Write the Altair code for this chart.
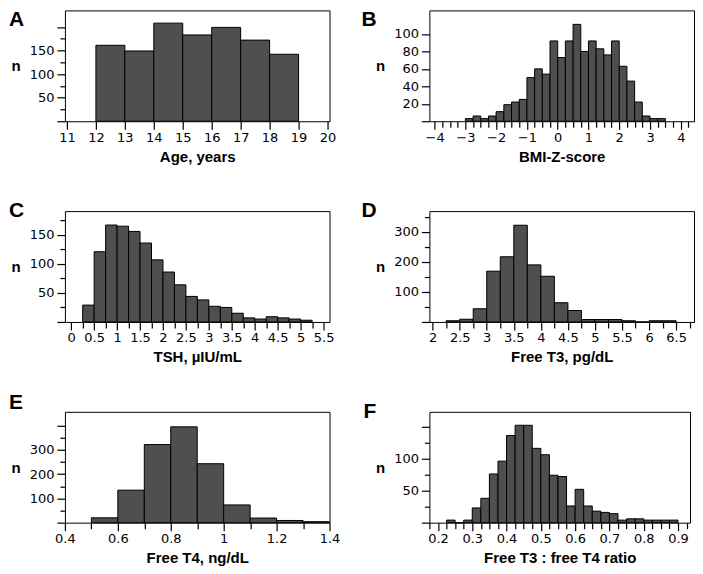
import altair as alt
import pandas as pd

# ---------------- data (bin start, bin width, counts) ----------------
# A  Age, years
age_first, age_width = 12, 1
age_counts = [161, 149, 208, 183, 199, 172, 142]

# B  BMI-Z-score
bmi_first, bmi_width = -3.0, 0.25
bmi_counts = [3, 6, 3, 6, 11, 19, 22, 25, 50, 60, 54, 92, 73,
              92, 111, 80, 92, 83, 76, 92, 63, 46, 22, 6, 3, 3]

# C  TSH
tsh_first, tsh_width = 0.25, 0.25
tsh_counts = [29, 121, 167, 165, 156, 136, 107, 86, 64, 44,
              38, 27, 25, 15, 7, 5, 9, 7, 5, 3]

# D  Free T3
ft3_first, ft3_width = 2.25, 0.25
ft3_counts = [4, 9, 44, 169, 217, 322, 190, 152, 64, 38, 8, 8, 8, 4, 0, 4, 4]

# E  Free T4
ft4_first, ft4_width = 0.5, 0.1
ft4_counts = [20, 134, 322, 395, 243, 73, 19, 9, 4]

# F  Free T3 : free T4 ratio
ratio_first, ratio_width = 0.225, 0.025
ratio_counts = [4, 0, 4, 23, 38, 76, 96, 136, 152, 152, 116, 106, 74, 72,
                26, 52, 26, 18, 16, 14, 4, 6, 6, 4, 4, 4, 4]

FILL = "#4f4f4f"
LABEL_FONT = "DejaVu Sans"
TITLE_FONT = "Liberation Sans"


def rng(a, b, step):
    n = int(round((b - a) / step))
    return [round(a + i * step, 4) for i in range(n + 1)]


def axis(orient, ticks, labels, major, title, big, small):
    lab = "[" + ",".join(repr(v) for v in labels) + "]"
    maj = "[" + ",".join(repr(v) for v in major) + "]"
    kw = dict(
        values=ticks,
        labelExpr=f"indexof({lab}, datum.value) >= 0 ? format(datum.value, '~g') : ''",
        title=title,
        labelOverlap=False,
        labelFlush=False,
        labelBound=False,
        domain=False,
        grid=False,
        orient=orient,
        ticks=True,
        tickWidth=1.2,
        tickOpacity=1,
        tickSize={"condition": {"test": f"indexof({maj}, datum.value) >= 0",
                                "value": big}, "value": small},
    )
    if orient == "left":
        kw.update(titleAngle=0, titleAlign="right", titleBaseline="middle",
                  titlePadding=9, labelPadding=3, tickColor="black")
    else:
        kw.update(labelPadding=2, titlePadding=5, tickColor="#000000")
    return alt.Axis(**kw)


def panel(letter, first, width, counts, xdom, ydom, xt, xl, xmaj, yt, yl, ymaj,
          xtitle, w, h, ldx, ldy):
    starts = [round(first + i * width, 4) for i in range(len(counts))]
    df = pd.DataFrame({"x": starts,
                       "x2": [round(s + width, 4) for s in starts],
                       "n": counts})
    bars = alt.Chart(df).mark_rect(fill=FILL, stroke="black", strokeWidth=1).encode(
        x=alt.X("x:Q", scale=alt.Scale(domain=xdom, nice=False, zero=False),
                axis=axis("bottom", xt, xl, xmaj, xtitle, 8, 6)),
        x2="x2:Q",
        y=alt.Y("n:Q", scale=alt.Scale(domain=ydom, nice=False),
                axis=axis("left", yt, yl, ymaj, "n", 8, 5)),
        y2=alt.datum(0),
    )
    txt = alt.Chart(pd.DataFrame({"t": [letter]})).mark_text(
        align="left", baseline="top", fontSize=21, fontWeight="bold",
        font=TITLE_FONT, color="black"
    ).encode(x=alt.value(ldx), y=alt.value(ldy), text="t:N")
    return alt.layer(bars, txt).properties(width=w, height=h)


pA = panel("A", age_first, age_width, age_counts, [10.93, 20.07], [0, 235],
           rng(11, 20, 1), rng(11, 20, 1), rng(11, 20, 1),
           rng(0, 200, 25), [50, 100, 150], rng(0, 200, 50),
           "Age, years", 265, 111, -56, -1)

pB = panel("B", bmi_first, bmi_width, bmi_counts, [-4.17, 4.43], [0, 127],
           rng(-4, 4.25, 0.25), rng(-4, 4, 1), rng(-4, 4, 1),
           rng(0, 100, 20), rng(20, 100, 20), rng(0, 100, 20),
           "BMI-Z-score", 265, 111, -68, -1)

pC = panel("C", tsh_first, tsh_width, tsh_counts, [-0.137, 5.63], [0, 191],
           rng(0, 5.5, 0.25), rng(0, 5.5, 0.5), rng(0, 5.5, 0.5),
           rng(0, 175, 25), [50, 100, 150], rng(0, 150, 50),
           "TSH, µIU/mL", 265, 111, -56, -11)

pD = panel("D", ft3_first, ft3_width, ft3_counts, [1.94, 6.83], [0, 369],
           rng(2, 6.75, 0.25), rng(2, 6.5, 0.5), rng(2, 6.5, 0.5),
           rng(0, 350, 50), [100, 200, 300], rng(0, 300, 100),
           "Free T3, pg/dL", 265, 111, -68, -11)

pE = panel("E", ft4_first, ft4_width, ft4_counts, [0.4, 1.4], [0, 457],
           rng(0.4, 1.4, 0.1), rng(0.4, 1.4, 0.2), rng(0.4, 1.4, 0.2),
           rng(0, 400, 50), [100, 200, 300], rng(0, 400, 100),
           "Free T4, ng/dL", 265, 111, -56, -20)

pF = panel("F", ratio_first, ratio_width, ratio_counts, [0.175, 0.935], [0, 173],
           rng(0.175, 0.925, 0.025), rng(0.2, 0.9, 0.1), rng(0.2, 0.9, 0.1),
           rng(0, 150, 25), [50, 100], rng(0, 150, 50),
           "Free T3 : free T4 ratio", 261, 111, -66, -11)

chart = alt.ConcatChart(
    concat=[pA, pB, pC, pD, pE, pF],
    columns=2,
    spacing={"row": 90, "column": 100},
    bounds="flush",
).properties(padding=0).configure_view(
    stroke="black", strokeWidth=1
).configure_axis(
    labelFont=LABEL_FONT, labelFontSize=13, labelColor="black",
    titleFont=TITLE_FONT, titleFontSize=15, titleFontWeight="bold",
    titleColor="black",
)

chart.save("out.html", embed_options={"renderer": "svg", "actions": False})
